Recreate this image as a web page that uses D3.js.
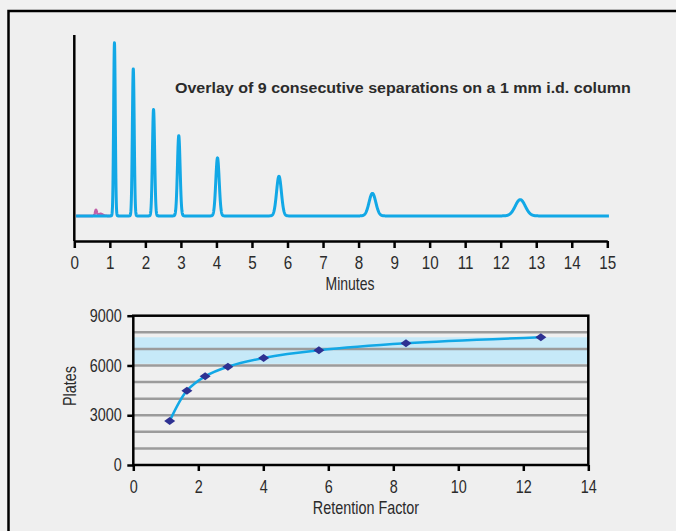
<!DOCTYPE html>
<html>
<head>
<meta charset="utf-8">
<script src="https://cdn.jsdelivr.net/npm/d3@7"></script>
<style>
  html, body { margin: 0; padding: 0; background: #f1f1f1; }
  svg { display: block; }
  text { font-family: "Liberation Sans", Arial, sans-serif; fill: #2b2b2b; }
  .axis text { font-size: 19px; }
  .axis2 text { font-size: 18px; }
</style>
</head>
<body>
<svg width="676" height="531"></svg>
<script>
// chromatogram peaks (minutes, relative height, sigma in minutes)
const peakTimes   = [1.13, 1.66, 2.23, 2.94, 4.03, 5.76, 8.39, 12.55];
const peakHeights = [100, 85.1, 61.5, 46.3, 33.5, 22.9, 13.0, 9.4];
const peakSigmas  = [0.023, 0.026, 0.031, 0.038, 0.048, 0.068, 0.095, 0.14];

// small void-volume disturbance seen on some overlays (pink)
const bumpTimes   = [0.61, 0.74];
const bumpHeights = [3.4, 1.2];
const bumpSigmas  = [0.025, 0.06];

// plate count vs retention factor
const retentionFactor = [1.12, 1.65, 2.21, 2.91, 4.01, 5.71, 8.39, 12.54];
const plates          = [2650, 4480, 5345, 5925, 6450, 6912, 7336, 7698];
const bandRange = [6100, 7700];

const minuteTicks = d3.range(0, 16);
const kTicks = [0, 2, 4, 6, 8, 10, 12, 14];
const plateTicks = [0, 3000, 6000, 9000];
const plateGrid = [1000, 2000, 3000, 4000, 5000, 6000, 7000, 8000];

const condense = 0.8; // no condensed font installed, squeeze horizontally

const svg = d3.select('svg');

// text helper: condensed label at x,y
const label = (parent, x, y, str, size, rot) => parent.append('text')
  .attr('transform', `translate(${x},${y})${rot ? ` rotate(${rot})` : ''} scale(${condense},1)`)
  .attr('text-anchor', 'middle')
  .attr('font-size', size)
  .text(str);

// outer frame
svg.append('rect')
  .attr('x', 8.5).attr('y', 11)
  .attr('width', 700).attr('height', 560)
  .attr('fill', '#efefef')
  .attr('stroke', '#000')
  .attr('stroke-width', 2.5);

// ---------- top chart: chromatogram ----------
const xTop = d3.scaleLinear().domain([0, 15]).range([74.3, 607.3]);
const yTop = d3.scaleLinear().domain([-14.5, 104.5]).range([241, 35]);

const signal = (t, times, heights, sigmas) =>
  d3.sum(times, (tr, i) => heights[i] * Math.exp(-0.5 * ((t - tr) / sigmas[i]) ** 2));

const samples = d3.range(0.05, 15.05, 0.004);
const line = d3.line().x(d => xTop(d[0])).y(d => yTop(d[1]));

const topG = svg.append('g');

// pink overlay underneath
const pinkPts = d3.range(0.05, 1.0, 0.004).map(t => [t, signal(t, bumpTimes, bumpHeights, bumpSigmas)]);
topG.append('path')
  .attr('d', line(pinkPts))
  .attr('fill', 'none')
  .attr('stroke', '#c160a8')
  .attr('stroke-width', 2.5);

topG.append('path')
  .attr('d', line(samples.map(t => [t, signal(t, peakTimes, peakHeights, peakSigmas)])))
  .attr('fill', 'none')
  .attr('stroke', '#12a8e6')
  .attr('stroke-width', 3)
  .attr('stroke-linejoin', 'round');

// y axis line (no ticks)
topG.append('line')
  .attr('x1', xTop(0)).attr('x2', xTop(0))
  .attr('y1', yTop.range()[1]).attr('y2', yTop.range()[0])
  .attr('stroke', '#000').attr('stroke-width', 2.5);

const xAxisTop = topG.append('g')
  .attr('class', 'axis')
  .attr('transform', `translate(0,${yTop.range()[0]})`)
  .call(d3.axisBottom(xTop).tickValues(minuteTicks).tickSize(7).tickSizeOuter(0).tickPadding(8));
xAxisTop.select('.domain').attr('stroke', '#000').attr('stroke-width', 2.5);
xAxisTop.selectAll('.tick line').attr('stroke', '#000').attr('stroke-width', 2.5);
xAxisTop.selectAll('text').attr('fill', '#2b2b2b').attr('transform', `scale(${condense},1)`);

label(topG, 350, 290, 'Minutes', 17.5);

const title = topG.append('text')
  .attr('font-size', 15.3)
  .attr('font-weight', 'bold')
  .attr('fill', '#111')
  .text('Overlay of 9 consecutive separations on a 1 mm i.d. column');
const tl = title.node().getComputedTextLength();
title.attr('transform', `translate(175,93) scale(${456 / tl},1)`);

// ---------- bottom chart: plates vs retention factor ----------
const xBot = d3.scaleLinear().domain([0, 14]).range([133.3, 588.3]);
const yBot = d3.scaleLinear().domain([0, 9000]).range([465, 315.7]);

const bot = svg.append('g');

bot.append('rect')
  .attr('x', xBot(0)).attr('y', yBot(bandRange[1]))
  .attr('width', xBot(14) - xBot(0))
  .attr('height', yBot(bandRange[0]) - yBot(bandRange[1]))
  .attr('fill', '#c6e9f8');

bot.selectAll('.grid').data(plateGrid)
  .enter().append('line')
  .attr('class', 'grid')
  .attr('x1', xBot(0)).attr('x2', xBot(14))
  .attr('y1', d => yBot(d)).attr('y2', d => yBot(d))
  .attr('stroke', '#9b9b9b')
  .attr('stroke-width', 2.5);

bot.append('path')
  .attr('d', d3.line()
    .x((d, i) => xBot(retentionFactor[i]))
    .y(d => yBot(d))
    .curve(d3.curveCatmullRom.alpha(0.5))(plates))
  .attr('fill', 'none')
  .attr('stroke', '#12a8e6')
  .attr('stroke-width', 2.5);

bot.selectAll('.pt').data(plates)
  .enter().append('path')
  .attr('class', 'pt')
  .attr('transform', (d, i) => `translate(${xBot(retentionFactor[i])},${yBot(d)})`)
  .attr('d', 'M-5.5,0L0,-4L5.5,0L0,4Z')
  .attr('fill', '#2e3192');

const xAxisBot = bot.append('g')
  .attr('class', 'axis2')
  .attr('transform', `translate(0,${yBot(0)})`)
  .call(d3.axisBottom(xBot).tickValues(kTicks).tickSize(6).tickSizeOuter(0).tickPadding(9));
const yAxisBot = bot.append('g')
  .attr('class', 'axis2')
  .attr('transform', `translate(${xBot(0)},0)`)
  .call(d3.axisLeft(yBot).tickValues(plateTicks).tickFormat(d3.format('d'))
    .tickSize(6).tickSizeOuter(0).tickPadding(8.5));
[xAxisBot, yAxisBot].forEach(a => {
  a.select('.domain').remove();
  a.selectAll('.tick line').attr('stroke', '#000').attr('stroke-width', 2.5);
  a.selectAll('text').attr('fill', '#2b2b2b').attr('transform', `scale(${condense},1)`);
});

bot.append('rect')
  .attr('x', xBot(0)).attr('y', yBot(9000))
  .attr('width', xBot(14) - xBot(0))
  .attr('height', yBot(0) - yBot(9000))
  .attr('fill', 'none')
  .attr('stroke', '#000')
  .attr('stroke-width', 2.5);

label(bot, 366, 514, 'Retention Factor', 18);
label(bot, 76, 386, 'Plates', 18, -90);
</script>
</body>
</html>
